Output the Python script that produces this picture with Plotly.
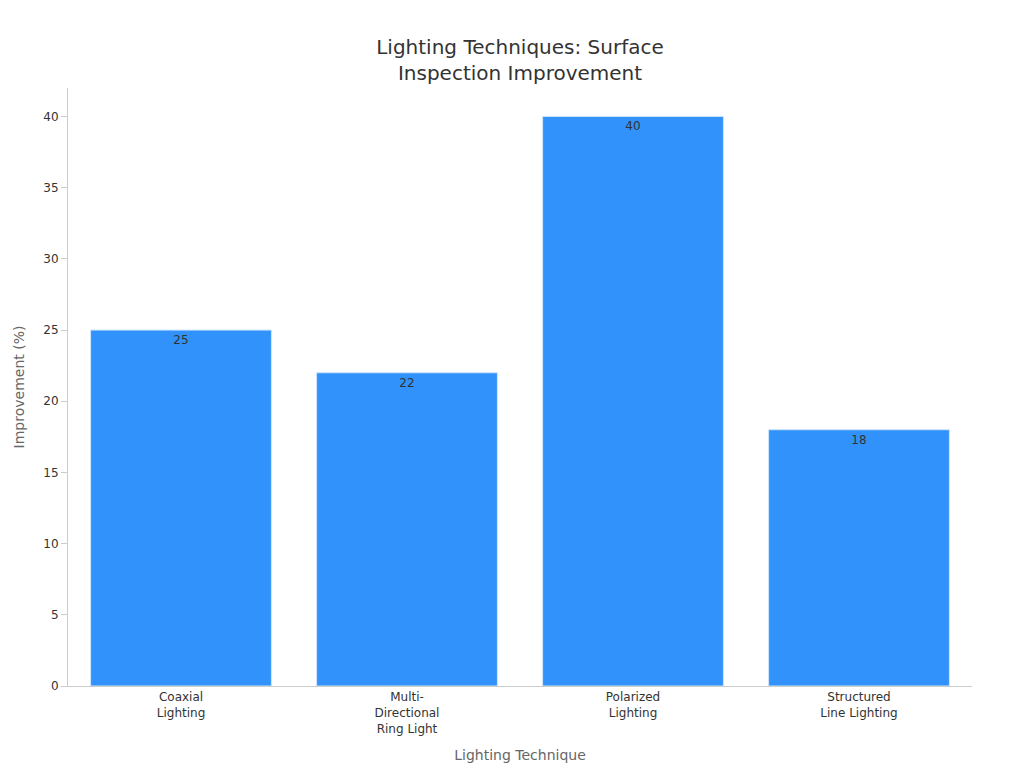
import plotly.graph_objects as go

categories = ["Coaxial<br>Lighting", "Multi-<br>Directional<br>Ring Light", "Polarized<br>Lighting", "Structured<br>Line Lighting"]
values = [25, 22, 40, 18]
tick_vals = [0, 5, 10, 15, 20, 25, 30, 35, 40]

fig = go.Figure(go.Bar(
    x=categories, y=values, text=values, textposition="inside",
    insidetextanchor="end", textfont=dict(color="#333", size=12),
    marker=dict(color="#3092fa", line=dict(color="#cfe4fb", width=1)),
    width=0.8,
))
fig.update_layout(
    width=1024, height=768,
    paper_bgcolor="white", plot_bgcolor="white",
    font=dict(family="DejaVu Sans", size=12, color="#333"),
    title=dict(text="Lighting Techniques: Surface<br>Inspection Improvement", x=0.5, xanchor="center",
               y=0.94, font=dict(size=20, color="#333")),
    margin=dict(l=60, r=60, t=80, b=90),
    showlegend=False,
    bargap=0.2,
)
fig.update_xaxes(title=dict(text="Lighting Technique", font=dict(size=14, color="#666")),
                 showline=True, linecolor="#ccc", ticks="", tickfont=dict(size=12))
fig.update_yaxes(title=dict(text="Improvement (%)", font=dict(size=14, color="#666")),
                 showline=True, linecolor="#ccc", ticks="outside", ticklen=6, tickcolor="#ccc",
                 tickvals=tick_vals, showgrid=False, range=[0, 42], zeroline=False)
fig.write_html("out.html")
